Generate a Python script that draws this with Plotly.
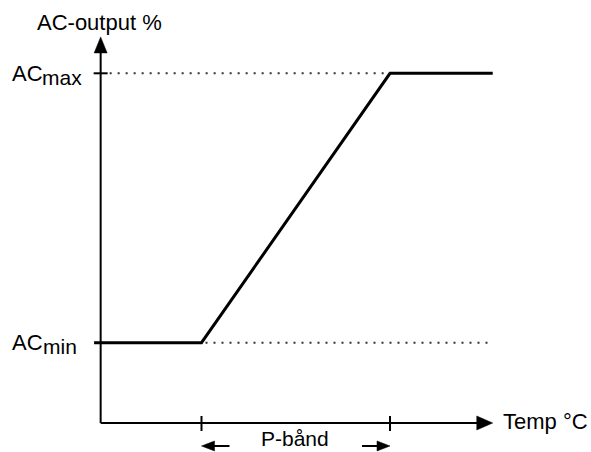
import plotly.graph_objects as go

# ---- data (abstract units: temperature in °C-like units, output in % of AC range) ----
temp_points = [-1.4, 10, 30, 40.9]      # curve x
output_points = [0, 0, 100, 100]         # curve y (ACmin=0, ACmax=100)
p_band = [10, 30]                        # start / end of proportional band
ac_min = 0
ac_max = 100
axis_origin = [-0.7, -29.8]              # where the two axes meet
x_axis_end = 40.9
y_axis_end = 113.5

axis_title_y = "AC-output %"
axis_title_x = "Temp °C"
band_label = "P-bånd"

# ---- layout scale (pixels per unit) ----
W, H = 591, 452
PX_X, X0PX = 9.425, 107.25
PX_Y, Y0PX = 2.694, 342.7
xr = [-X0PX / PX_X, (W - X0PX) / PX_X]
yr = [-(H - Y0PX) / PX_Y, Y0PX / PX_Y]

FONT = dict(family="Arial, 'Liberation Sans', sans-serif", size=22, color="black")
ox, oy = axis_origin

fig = go.Figure()
fig.add_trace(go.Scatter(x=temp_points, y=output_points, mode="lines",
                         line=dict(color="black", width=3), hoverinfo="skip",
                         showlegend=False))

shapes = []
# axes lines (stop at arrow base)
shapes.append(dict(type="line", xref="x", yref="y", x0=ox, y0=oy,
                   x1=ox, y1=y_axis_end - 10 / PX_Y, line=dict(color="black", width=2)))
shapes.append(dict(type="line", xref="x", yref="y", x0=ox, y0=oy,
                   x1=x_axis_end - 10 / PX_X, y1=oy, line=dict(color="black", width=2)))
# arrowheads
shapes.append(dict(type="path", xref="x", yref="y", xsizemode="pixel", ysizemode="pixel",
                   xanchor=ox, yanchor=y_axis_end, path="M0,0 L-6.5,-16 L6.5,-16 Z",
                   fillcolor="black", line=dict(color="black", width=0.5)))
shapes.append(dict(type="path", xref="x", yref="y", xsizemode="pixel", ysizemode="pixel",
                   xanchor=x_axis_end, yanchor=oy, path="M0,0 L-16,7 L-16,-7 Z",
                   fillcolor="black", line=dict(color="black", width=0.5)))
# ticks
for xv in p_band:
    shapes.append(dict(type="line", xref="x", yref="y", ysizemode="pixel", yanchor=oy,
                       x0=xv, x1=xv, y0=-8, y1=7, line=dict(color="black", width=2)))
shapes.append(dict(type="line", xref="x", yref="y", xsizemode="pixel", xanchor=ox,
                   x0=-7, x1=7, y0=ac_max, y1=ac_max, line=dict(color="black", width=2)))
# dotted reference lines
dot = dict(color="#333333", width=2, dash="2px,6px")
shapes.append(dict(type="line", xref="x", yref="y", x0=ox + 9 / PX_X, x1=p_band[1],
                   y0=ac_max, y1=ac_max, line=dot))
shapes.append(dict(type="line", xref="x", yref="y", x0=p_band[0] + 4 / PX_X, x1=x_axis_end,
                   y0=ac_min, y1=ac_min, line=dot))
# P-band arrows
arr_y = -23
shapes.append(dict(type="line", xref="x", yref="y", xsizemode="pixel", ysizemode="pixel",
                   xanchor=p_band[0], yanchor=oy, x0=10, x1=28, y0=arr_y, y1=arr_y,
                   line=dict(color="black", width=2)))
shapes.append(dict(type="path", xref="x", yref="y", xsizemode="pixel", ysizemode="pixel",
                   xanchor=p_band[0], yanchor=oy,
                   path=f"M0,{arr_y} L13,{arr_y+5} L13,{arr_y-5} Z",
                   fillcolor="black", line=dict(color="black", width=0.5)))
shapes.append(dict(type="line", xref="x", yref="y", xsizemode="pixel", ysizemode="pixel",
                   xanchor=p_band[1], yanchor=oy, x0=-28, x1=-10, y0=arr_y, y1=arr_y,
                   line=dict(color="black", width=2)))
shapes.append(dict(type="path", xref="x", yref="y", xsizemode="pixel", ysizemode="pixel",
                   xanchor=p_band[1], yanchor=oy,
                   path=f"M0,{arr_y} L-13,{arr_y+5} L-13,{arr_y-5} Z",
                   fillcolor="black", line=dict(color="black", width=0.5)))

ann = []
def label(text, xpx, yval, ys=0, xanchor="left", size=22):
    f = dict(FONT); f["size"] = size
    ann.append(dict(text=text, xref="paper", yref="y", x=xpx / W, y=yval, yshift=ys,
                    xanchor=xanchor, yanchor="middle", showarrow=False, font=f,
                    borderpad=0, borderwidth=0))

label(axis_title_y, 37, (Y0PX - 22) / PX_Y)
label("AC", 12, ac_max, 0)
label("max", 42, ac_max, -4, size=21)
label("AC", 12, ac_min, 0)
label("min", 43, ac_min, -4, size=21)
label(axis_title_x, 503, oy, 1)
label(band_label, 295, oy, -16, xanchor="center", size=21)

fig.update_layout(
    width=W, height=H, margin=dict(l=0, r=0, t=0, b=0),
    paper_bgcolor="white", plot_bgcolor="white",
    xaxis=dict(range=xr, visible=False, fixedrange=True),
    yaxis=dict(range=yr, visible=False, fixedrange=True),
    shapes=shapes, annotations=ann, showlegend=False,
)
fig.write_html("out.html", config={"displayModeBar": False},
               post_script="document.body.style.margin='0px';document.body.style.overflow='hidden';")
